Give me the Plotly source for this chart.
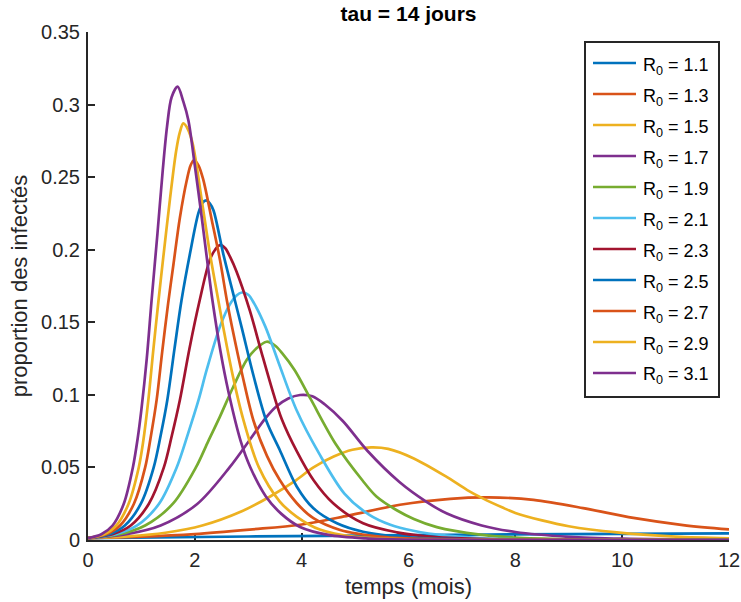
import plotly.graph_objects as go

# ---------------- data ----------------
r0_values = [1.1, 1.3, 1.5, 1.7, 1.9, 2.1, 2.3, 2.5, 2.7, 2.9, 3.1]

t_11 = [0, 3.0, 6.0, 9.0, 12]
v_11 = [0.0013, 0.0024, 0.0033, 0.0041, 0.0046]

t_13 = [0, 1, 2, 3.03, 3.97, 4.87, 5.84, 6.78, 7.5, 8.34, 9.27, 10.21, 11.14, 12]
v_13 = [0.0013, 0.0023, 0.0041, 0.0072, 0.0105, 0.0168, 0.0243, 0.0284, 0.0294, 0.0276,
        0.0220, 0.0152, 0.0103, 0.0073]

t_15 = [0, 0.75, 1.45, 2.14, 2.89, 3.41, 3.85, 4.22, 4.6, 4.95, 5.3, 5.62, 6.1, 6.7, 7.1,
        7.4, 7.75, 8.0, 8.5, 9.0, 9.9, 11.0, 12]
v_15 = [0.0013, 0.0025, 0.005, 0.01, 0.02, 0.03, 0.04, 0.05, 0.0575, 0.0622, 0.0638, 0.0628,
        0.0562, 0.0438, 0.0344, 0.0285, 0.0225, 0.0186, 0.0135, 0.0095, 0.0052, 0.0023, 0.0011]

t_17 = [0, 0.72, 1.36, 2.05, 2.65, 3.01, 3.32, 3.52, 3.75, 3.97, 4.2, 4.43, 4.77, 5.23,
        5.83, 6.33, 6.72, 7.37, 8.0, 9.0, 10.0, 12]
v_17 = [0.0013, 0.004, 0.01, 0.025, 0.05, 0.068, 0.0838, 0.0918, 0.0975, 0.0999, 0.099,
        0.0935, 0.082, 0.0615, 0.040, 0.0265, 0.0182, 0.0100, 0.0055, 0.0022, 0.0009, 0.0002]

t_19 = [0, 0.59, 1.07, 1.59, 2.02, 2.25, 2.47, 2.72, 2.97, 3.15, 3.345, 3.5, 3.63, 3.87,
        4.17, 4.64, 5.14, 5.40, 5.78, 6.1, 6.53, 7.34, 8.0, 9.0, 10.0, 12]
v_19 = [0.0013, 0.004, 0.01, 0.025, 0.05, 0.068, 0.085, 0.1056, 0.124, 0.132, 0.1366, 0.134,
        0.129, 0.117, 0.097, 0.066, 0.041, 0.030, 0.0205, 0.0145, 0.0089, 0.0037, 0.0016,
        0.0005, 0.0002, 0.0]

t_21 = [0, 0.52, 0.92, 1.33, 1.66, 1.87, 2.07, 2.22, 2.47, 2.65, 2.78, 2.88, 3.0, 3.11,
        3.32, 3.57, 3.91, 4.32, 4.8, 5.26, 5.66, 6.09, 6.71, 7.5, 8.5, 12]
v_21 = [0.0013, 0.004, 0.01, 0.025, 0.05, 0.073, 0.0965, 0.117, 0.147, 0.162, 0.1685,
        0.1705, 0.169, 0.163, 0.147, 0.122, 0.089, 0.060, 0.032, 0.0175, 0.0105, 0.0064,
        0.003, 0.001, 0.0003, 0.0]

t_23 = [0, 0.46, 0.8, 1.14, 1.42, 1.57, 1.72, 1.9, 2.09, 2.28, 2.38, 2.47, 2.57, 2.66, 2.78,
        3.03, 3.25, 3.47, 3.63, 3.91, 4.22, 4.59, 5.15, 5.78, 6.5, 7.5, 9.0, 12]
v_23 = [0.0013, 0.004, 0.01, 0.025, 0.05, 0.072, 0.0965, 0.132, 0.165, 0.193, 0.2, 0.2031,
        0.201, 0.195, 0.185, 0.158, 0.129, 0.101, 0.083, 0.061, 0.0413, 0.0253, 0.0115,
        0.0053, 0.002, 0.0006, 0.0001, 0.0]

t_25 = [0, 0.4, 0.69, 0.99, 1.23, 1.36, 1.485, 1.62, 1.75, 1.91, 2.065, 2.14, 2.21, 2.28,
        2.35, 2.53, 2.75, 2.88, 3.1, 3.34, 3.59, 3.91, 4.22, 4.66, 5.15, 6.0, 7.0, 9.0, 12]
v_25 = [0.0013, 0.004, 0.01, 0.025, 0.05, 0.072, 0.0965, 0.132, 0.165, 0.1975, 0.225, 0.232,
        0.234, 0.232, 0.227, 0.1975, 0.165, 0.146, 0.113, 0.082, 0.062, 0.0367, 0.0218,
        0.0115, 0.0057, 0.0018, 0.0005, 0.0001, 0.0]

t_27 = [0, 0.34, 0.6, 0.86, 1.07, 1.17, 1.285, 1.39, 1.50, 1.60, 1.72, 1.85, 1.92, 1.985,
        2.07, 2.16, 2.32, 2.47, 2.60, 2.69, 2.9, 3.10, 3.35, 3.59, 3.91, 4.22, 4.72, 5.5,
        6.5, 8.0, 12]
v_27 = [0.0013, 0.004, 0.01, 0.025, 0.05, 0.07, 0.0965, 0.13, 0.163, 0.19, 0.222, 0.248,
        0.258, 0.2618, 0.258, 0.248, 0.220, 0.193, 0.165, 0.148, 0.112, 0.082, 0.058,
        0.0413, 0.0253, 0.015, 0.0069, 0.0022, 0.0006, 0.0001, 0.0]

t_29 = [0, 0.3, 0.53, 0.76, 0.95, 1.03, 1.13, 1.22, 1.32, 1.41, 1.535, 1.65, 1.72, 1.785,
        1.87, 1.96, 2.13, 2.28, 2.44, 2.53, 2.7, 2.9, 3.2, 3.59, 3.91, 4.34, 5.0, 6.0, 8.0, 12]
v_29 = [0.0013, 0.004, 0.01, 0.025, 0.05, 0.067, 0.0965, 0.13, 0.165, 0.195, 0.235, 0.268,
        0.281, 0.287, 0.283, 0.273, 0.234, 0.198, 0.165, 0.147, 0.115, 0.084, 0.050, 0.0265,
        0.016, 0.0072, 0.0022, 0.0005, 0.0001, 0.0]

t_31 = [0, 0.25, 0.46, 0.67, 0.84, 0.93, 1.0, 1.1, 1.19, 1.30, 1.40, 1.48, 1.565, 1.677,
        1.785, 1.88, 2.0, 2.13, 2.25, 2.33, 2.48, 2.63, 2.86, 3.04, 3.33, 3.62, 3.97, 4.5,
        5.2, 6.0, 7.5, 12]
v_31 = [0.0013, 0.004, 0.01, 0.025, 0.05, 0.07, 0.09, 0.125, 0.165, 0.211, 0.255, 0.285,
        0.305, 0.3123, 0.302, 0.289, 0.258, 0.222, 0.187, 0.165, 0.130, 0.102, 0.068, 0.050,
        0.030, 0.018, 0.009, 0.0035, 0.0011, 0.0003, 0.0001, 0.0]

x_ticks = [0, 2, 4, 6, 8, 10, 12]
y_ticks = [0, 0.05, 0.1, 0.15, 0.2, 0.25, 0.3, 0.35]
title_text = "tau = 14 jours"
x_label = "temps (mois)"
y_label = "proportion des infectés"

series_t = [t_11, t_13, t_15, t_17, t_19, t_21, t_23, t_25, t_27, t_29, t_31]
series_v = [v_11, v_13, v_15, v_17, v_19, v_21, v_23, v_25, v_27, v_29, v_31]

# ---------------- styling ----------------
palette = ["#0072BD", "#D95319", "#EDB120", "#7E2F8E", "#77AC30", "#4DBEEE", "#A2142F"]
FONT = "Liberation Sans, Arial, Helvetica, sans-serif"
AX = "#262626"

W, H = 741, 602
L, R, T, B = 88, 12, 32, 62
plot_w = W - L - R
plot_h = H - T - B


def px_to_paper_x(px):
    return (px - L) / plot_w


def px_to_paper_y(py):
    return (H - B - py) / plot_h


fig = go.Figure()
for i, (r0, tt, vv) in enumerate(zip(r0_values, series_t, series_v)):
    fig.add_trace(go.Scatter(
        x=tt, y=vv, mode="lines",
        line=dict(color=palette[i % len(palette)], width=2.7, shape="spline", smoothing=0.9),
        name=f"R0 = {r0}", showlegend=False, hoverinfo="skip",
    ))

# manual legend (MATLAB style)
shapes = []
annotations = []
lx0, lx1, ly0, ly1 = 585, 719, 42, 397
shapes.append(dict(type="rect", xref="paper", yref="paper",
                   x0=px_to_paper_x(lx0), x1=px_to_paper_x(lx1),
                   y0=px_to_paper_y(ly1), y1=px_to_paper_y(ly0),
                   line=dict(color="#262626", width=2), fillcolor="white", layer="above"))
for i, r0 in enumerate(r0_values):
    cy = 63 + i * 31
    shapes.append(dict(type="line", xref="paper", yref="paper",
                       x0=px_to_paper_x(593), x1=px_to_paper_x(636),
                       y0=px_to_paper_y(cy), y1=px_to_paper_y(cy),
                       line=dict(color=palette[i % len(palette)], width=2.7), layer="above"))
    annotations.append(dict(xref="paper", yref="paper",
                            x=px_to_paper_x(641), y=px_to_paper_y(cy),
                            xanchor="left", yanchor="middle", yshift=-3,
                            text=f"R<sub>0</sub> = {r0}", showarrow=False,
                            font=dict(family=FONT, size=18, color="#000000")))

fig.update_layout(
    width=W, height=H,
    margin=dict(l=L, r=R, t=T, b=B, autoexpand=False),
    paper_bgcolor="white", plot_bgcolor="white",
    title=dict(text=f"<b>{title_text}</b>", x=(L + plot_w / 2) / W, xanchor="center",
               y=1 - 14 / H, yanchor="middle",
               font=dict(family=FONT, size=21, color="#000000")),
    shapes=shapes, annotations=annotations,
    showlegend=False,
)
fig.update_xaxes(
    range=[0, 12], tickvals=x_ticks, ticks="inside", ticklen=7, tickwidth=1.5,
    tickcolor=AX, showline=True, linecolor=AX, linewidth=2, mirror=False,
    showgrid=False, zeroline=False, layer="below traces",
    tickfont=dict(family=FONT, size=20, color=AX), ticklabelstandoff=1,
    title=dict(text=x_label, font=dict(family=FONT, size=22, color=AX), standoff=9),
)
fig.update_yaxes(
    range=[0, 0.35], tickvals=y_ticks, ticks="inside", ticklen=7, tickwidth=1.5,
    tickcolor=AX, showline=True, linecolor=AX, linewidth=2, mirror=False,
    showgrid=False, zeroline=False, layer="below traces",
    tickfont=dict(family=FONT, size=20, color=AX), ticklabelstandoff=2,
    title=dict(text=y_label, font=dict(family=FONT, size=22, color=AX), standoff=7),
)

fig.write_html("out.html", config={"displayModeBar": False},
               post_script="document.body.style.margin='0';")
